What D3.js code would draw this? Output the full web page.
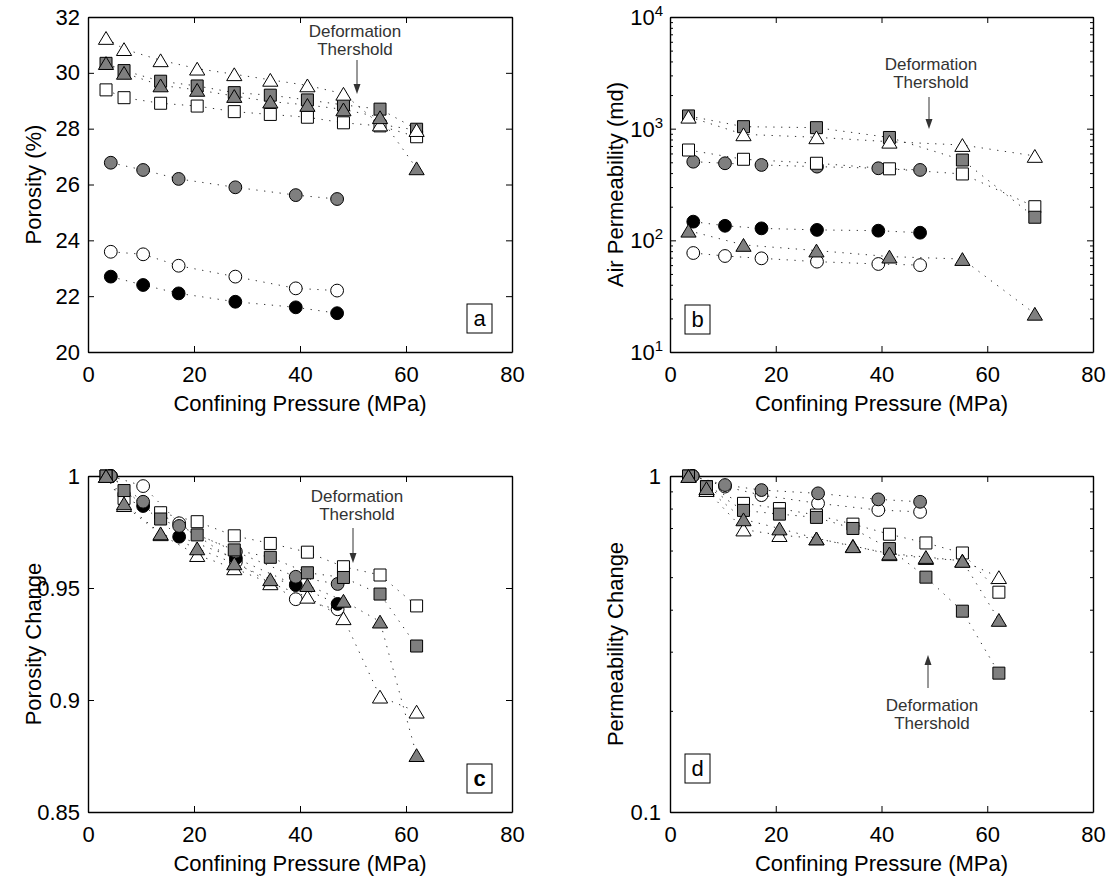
<!DOCTYPE html>
<html><head><meta charset="utf-8">
<script src="https://cdn.jsdelivr.net/npm/d3@7"></script>
<style>
body{margin:0;background:#fff;}
text{font-family:"Liberation Sans",Arial,Helvetica,sans-serif;}
</style>
</head><body>
<svg id="chart" width="1111" height="878"></svg>
<script>
// ---------------- DATA ----------------
const xTicks = [0, 20, 40, 60, 80];

// Panel a: Porosity (%)
const xSqTriA = [3.4, 6.8, 13.7, 20.6, 27.6, 34.4, 41.4, 48.2, 55.1, 62.0];
const xCircA  = [4.3, 10.4, 17.1, 27.8, 39.2, 47.0];
const porOpenTri   = [31.25, 30.85, 30.45, 30.15, 29.95, 29.75, 29.55, 29.25, 28.15, 27.95];
const porGreySq    = [30.34, 30.08, 29.70, 29.53, 29.29, 29.20, 29.03, 28.85, 28.70, 27.98];
const porGreyTri   = [30.35, 30.00, 29.55, 29.39, 29.17, 28.97, 28.85, 28.69, 28.41, 26.58];
const porOpenSq    = [29.39, 29.11, 28.91, 28.81, 28.61, 28.51, 28.41, 28.21, 28.10, 27.71];
const porGreyCirc  = [26.78, 26.52, 26.20, 25.90, 25.62, 25.48];
const porOpenCirc  = [23.59, 23.50, 23.09, 22.70, 22.28, 22.20];
const porBlackCirc = [22.70, 22.40, 22.10, 21.80, 21.60, 21.39];
const porTicks = [20, 22, 24, 26, 28, 30, 32];

// Panel b: Air Permeability (md)
const xSqTriB = [3.5, 13.9, 27.7, 41.5, 55.3, 69.0];
const xCircB  = [4.4, 10.4, 17.3, 27.8, 39.4, 47.3];
const permOpenTri   = [1280, 890, 837, 764, 714, 570];
const permGreySq    = [1300, 1042, 1021, 834, 524, 161];
const permOpenSq    = [644, 532, 490, 437, 393, 200];
const permGreyTri   = [122, 91, 81, 71.5, 68, 22];
const permGreyCirc  = [506, 490, 473, 457, 442, 427];
const permBlackCirc = [147, 135, 128, 124, 122, 117];
const permOpenCirc  = [77, 72.4, 69, 64.4, 61.4, 60];
const permTicks = [10, 100, 1000, 10000];

// Panel c: Porosity Change
const xSqTriC = [3.4, 6.8, 13.7, 20.6, 27.6, 34.4, 41.4, 48.2, 55.1, 62.0];
const xCircC  = [4.3, 10.4, 17.2, 27.9, 39.2, 47.1];
const chgOpenSq    = [1.0, 0.990, 0.9836, 0.9796, 0.9733, 0.9699, 0.9660, 0.9595, 0.9558, 0.9420];
const chgGreySq    = [1.0, 0.9935, 0.9808, 0.9737, 0.9670, 0.9637, 0.9568, 0.9547, 0.9473, 0.9241];
const chgOpenTri   = [1.0, 0.9870, 0.9740, 0.9647, 0.9588, 0.9521, 0.9461, 0.9365, 0.9015, 0.8948];
const chgGreyTri   = [1.0, 0.9878, 0.9744, 0.9677, 0.9610, 0.9539, 0.9513, 0.9443, 0.9350, 0.8754];
const chgGreyCirc  = [1.0, 0.9885, 0.9777, 0.9662, 0.9550, 0.9518];
const chgBlackCirc = [1.0, 0.9866, 0.9729, 0.9633, 0.9513, 0.9429];
const chgOpenCirc  = [1.0, 0.9955, 0.9789, 0.9617, 0.9450, 0.9405];
const chgTicks = [0.85, 0.9, 0.95, 1];

// Panel d: Permeability Change
const xSqTriD = [3.5, 6.9, 13.9, 20.7, 27.7, 34.6, 41.5, 48.4, 55.3, 62.2];
const xCircD  = [4.3, 10.4, 17.3, 28.0, 39.4, 47.3];
const kOpenSq   = [1.0, 0.930, 0.829, 0.800, 0.765, 0.719, 0.671, 0.632, 0.590, 0.451];
const kGreySq   = [1.0, 0.929, 0.790, 0.770, 0.753, 0.698, 0.608, 0.500, 0.396, 0.259];
const kOpenTri  = [1.0, 0.908, 0.693, 0.667, 0.652, 0.620, 0.585, 0.570, 0.560, 0.500];
const kGreyTri  = [1.0, 0.920, 0.743, 0.698, 0.652, 0.618, 0.588, 0.574, 0.559, 0.373];
const kGreyCirc = [1.0, 0.940, 0.908, 0.888, 0.852, 0.838];
const kOpenCirc = [1.0, 0.930, 0.877, 0.829, 0.792, 0.782];
const kTicks = [0.1, 1];

const annotationLines = ["Deformation", "Thershold"];

// ---------------- DRAWING ----------------
const GREY = "#7f7f7f";
const svg = d3.select("#chart");
svg.append("rect").attr("width", 1111).attr("height", 878).attr("fill", "#fff");

const styleOf = {
  openCirc:  {shape: "circ", fill: "#fff"},
  blackCirc: {shape: "circ", fill: "#000"},
  greyCirc:  {shape: "circ", fill: GREY},
  openSq:    {shape: "sq", fill: "#fff"},
  greySq:    {shape: "sq", fill: GREY},
  openTri:   {shape: "tri", fill: "#fff"},
  greyTri:   {shape: "tri", fill: GREY}
};
const drawOrder = ["openCirc", "blackCirc", "greyCirc", "openSq", "greySq", "openTri", "greyTri"];

function markerPath(shape) {
  if (shape === "circ") { const r = 6.4; return `M${-r},0A${r},${r} 0 1,0 ${r},0A${r},${r} 0 1,0 ${-r},0Z`; }
  if (shape === "sq") { const s = 6; return `M${-s},${-s}H${s}V${s}H${-s}Z`; }
  const w = 7.6, h = 6.4; return `M0,${-h}L${w},${h}L${-w},${h}Z`;
}

function drawPanel(p) {
  const g = svg.append("g");
  const x = d3.scaleLinear().domain([0, 80]).range([p.left, p.right]);
  const y = (p.log ? d3.scaleLog() : d3.scaleLinear()).domain(p.yDomain).range([p.bottom, p.top]);

  const styleAxis = sel => {
    sel.selectAll("text").attr("font-size", 22).attr("fill", "#000")
       .attr("font-family", "'Liberation Sans', Arial, sans-serif");
    sel.selectAll("line").attr("stroke", "#000").attr("stroke-width", 1);
    sel.select(".domain").attr("stroke", "#000").attr("stroke-width", 1.4);
    sel.attr("font-family", null).attr("font-size", null);
  };

  g.append("g").attr("transform", `translate(0,${p.bottom})`)
    .call(d3.axisBottom(x).tickValues(xTicks).tickSize(-6).tickSizeOuter(0).tickPadding(14).tickFormat(d3.format("d")))
    .call(styleAxis);
  g.append("g").attr("transform", `translate(0,${p.top})`)
    .call(d3.axisTop(x).tickValues(xTicks).tickSize(-6).tickSizeOuter(0).tickFormat(""))
    .call(styleAxis);
  const leftAx = d3.axisLeft(y).tickValues(p.yTicks).tickSize(-6).tickSizeOuter(0).tickPadding(p.yPad || 8)
    .tickFormat(p.sup ? "" : p.yFmt);
  g.append("g").attr("transform", `translate(${p.left},0)`).call(leftAx).call(styleAxis);
  g.append("g").attr("transform", `translate(${p.right},0)`)
    .call(d3.axisRight(y).tickValues(p.yTicks).tickSize(-6).tickSizeOuter(0).tickFormat(""))
    .call(styleAxis);

  if (p.log) {
    const minors = [];
    const [lo, hi] = p.yDomain;
    for (let d = lo; d < hi; d *= 10) for (let k = 2; k <= 9; k++) minors.push(d * k);
    g.append("g").attr("transform", `translate(${p.left},0)`)
      .call(d3.axisLeft(y).tickValues(minors).tickSize(-3).tickSizeOuter(0).tickFormat("")).call(styleAxis)
      .select(".domain").remove();
    g.append("g").attr("transform", `translate(${p.right},0)`)
      .call(d3.axisRight(y).tickValues(minors).tickSize(-3).tickSizeOuter(0).tickFormat("")).call(styleAxis)
      .select(".domain").remove();
  }

  if (p.sup) {
    p.yTicks.forEach(v => {
      const t = g.append("text").attr("x", p.left - 7).attr("y", y(v) + 8)
        .attr("text-anchor", "end").attr("font-size", 22).attr("fill", "#000");
      t.append("tspan").text("10");
      t.append("tspan").attr("font-size", 15).attr("dy", -9).text(String(Math.round(Math.log10(v))));
    });
  }

  // dotted lines
  p.series.forEach(s => {
    const pts = s.xs.map((xv, i) => [xv, s.ys[i]]);
    g.append("path").attr("d", d3.line().x(d => x(d[0])).y(d => y(d[1]))(pts))
      .attr("fill", "none").attr("stroke", "#333").attr("stroke-width", 1)
      .attr("stroke-dasharray", "1.3 6.5");
  });
  // markers
  drawOrder.forEach(key => {
    p.series.filter(s => s.style === key).forEach(s => {
      const st = styleOf[key];
      g.selectAll(null).data(s.xs.map((xv, i) => [xv, s.ys[i]])).join("path")
        .attr("transform", d => `translate(${x(d[0])},${y(d[1])})`)
        .attr("d", markerPath(st.shape))
        .attr("fill", st.fill).attr("stroke", "#000").attr("stroke-width", 1);
    });
  });

  // axis titles
  g.append("text").attr("x", (p.left + p.right) / 2).attr("y", p.bottom + 59)
    .attr("text-anchor", "middle").attr("font-size", 22).text("Confining Pressure (MPa)");
  g.append("text").attr("transform", `translate(${p.left - 47},${(p.top + p.bottom) / 2}) rotate(-90)`)
    .attr("text-anchor", "middle").attr("font-size", 22).text(p.yTitle);

  // panel label box
  const b = p.box;
  g.append("rect").attr("x", b.x).attr("y", b.y).attr("width", 25).attr("height", 29)
    .attr("fill", "#fff").attr("stroke", "#000").attr("stroke-width", 1);
  g.append("text").attr("x", b.x + 12.5).attr("y", b.y + 22).attr("text-anchor", "middle")
    .attr("font-size", 22).attr("font-weight", b.bold ? "bold" : "normal").text(b.label);

  // annotation
  const a = p.ann;
  annotationLines.forEach((line, i) => {
    g.append("text").attr("x", a.tx).attr("y", a.ty + i * 17.5).attr("text-anchor", "middle")
      .attr("font-size", 17).attr("fill", "#333").text(line);
  });
  const dir = Math.sign(a.tip - a.tail);
  g.append("line").attr("x1", a.ax).attr("x2", a.ax).attr("y1", a.tail).attr("y2", a.tip - dir * 8)
    .attr("stroke", "#333").attr("stroke-width", 1);
  g.append("path").attr("d", `M${a.ax},${a.tip}L${a.ax - 3.5},${a.tip - dir * 10}L${a.ax + 3.5},${a.tip - dir * 10}Z`)
    .attr("fill", "#333");
}

drawPanel({
  left: 88, right: 512, top: 17, bottom: 352,
  yDomain: [20, 32], yTicks: porTicks, yFmt: d3.format("d"), yTitle: "Porosity (%)",
  box: {x: 467, y: 304, label: "a"},
  ann: {tx: 355, ty: 37, ax: 357, tail: 60, tip: 94},
  series: [
    {xs: xCircA, ys: porOpenCirc, style: "openCirc"},
    {xs: xCircA, ys: porBlackCirc, style: "blackCirc"},
    {xs: xCircA, ys: porGreyCirc, style: "greyCirc"},
    {xs: xSqTriA, ys: porOpenSq, style: "openSq"},
    {xs: xSqTriA, ys: porGreySq, style: "greySq"},
    {xs: xSqTriA, ys: porOpenTri, style: "openTri"},
    {xs: xSqTriA, ys: porGreyTri, style: "greyTri"}
  ]
});

drawPanel({
  left: 670, right: 1093, top: 17, bottom: 352, log: true, sup: true,
  yDomain: [10, 10000], yTicks: permTicks, yTitle: "Air Permeability (md)",
  box: {x: 685, y: 305, label: "b"},
  ann: {tx: 931, ty: 70, ax: 929, tail: 97, tip: 129},
  series: [
    {xs: xCircB, ys: permOpenCirc, style: "openCirc"},
    {xs: xCircB, ys: permBlackCirc, style: "blackCirc"},
    {xs: xCircB, ys: permGreyCirc, style: "greyCirc"},
    {xs: xSqTriB, ys: permOpenSq, style: "openSq"},
    {xs: xSqTriB, ys: permGreySq, style: "greySq"},
    {xs: xSqTriB, ys: permOpenTri, style: "openTri"},
    {xs: xSqTriB, ys: permGreyTri, style: "greyTri"}
  ]
});

drawPanel({
  left: 88, right: 512, top: 476, bottom: 812,
  yDomain: [0.85, 1], yTicks: chgTicks, yFmt: d => String(d), yTitle: "Porosity Change",
  box: {x: 467, y: 764, label: "c", bold: true},
  ann: {tx: 357, ty: 502, ax: 353, tail: 528, tip: 563},
  series: [
    {xs: xCircC, ys: chgOpenCirc, style: "openCirc"},
    {xs: xCircC, ys: chgBlackCirc, style: "blackCirc"},
    {xs: xCircC, ys: chgGreyCirc, style: "greyCirc"},
    {xs: xSqTriC, ys: chgOpenSq, style: "openSq"},
    {xs: xSqTriC, ys: chgGreySq, style: "greySq"},
    {xs: xSqTriC, ys: chgOpenTri, style: "openTri"},
    {xs: xSqTriC, ys: chgGreyTri, style: "greyTri"}
  ]
});

drawPanel({
  left: 670, right: 1093, top: 476, bottom: 812, log: true, yPad: 9,
  yDomain: [0.1, 1], yTicks: kTicks, yFmt: d => String(d), yTitle: "Permeability Change",
  box: {x: 685, y: 754, label: "d"},
  ann: {tx: 932, ty: 711, ax: 928, tail: 688, tip: 655},
  series: [
    {xs: xCircD, ys: kOpenCirc, style: "openCirc"},
    {xs: xCircD, ys: kGreyCirc, style: "greyCirc"},
    {xs: xSqTriD, ys: kOpenSq, style: "openSq"},
    {xs: xSqTriD, ys: kGreySq, style: "greySq"},
    {xs: xSqTriD, ys: kOpenTri, style: "openTri"},
    {xs: xSqTriD, ys: kGreyTri, style: "greyTri"}
  ]
});
</script>
</body></html>
